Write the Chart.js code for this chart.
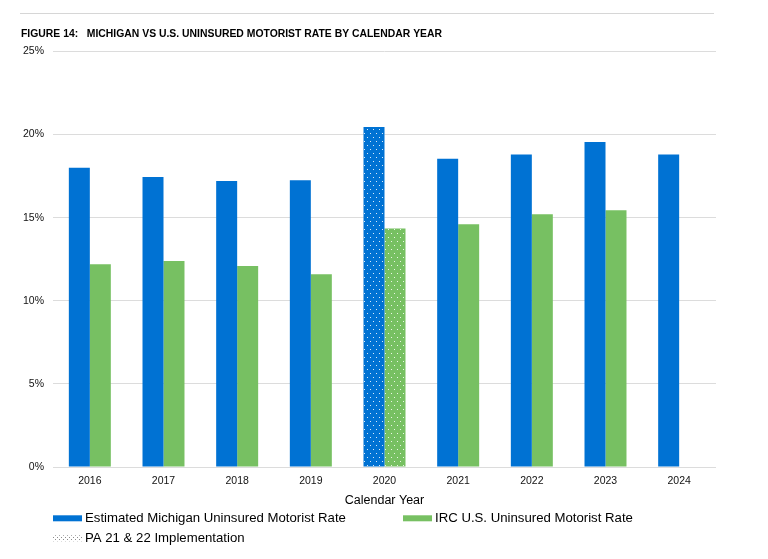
<!DOCTYPE html>
<html>
<head>
<meta charset="utf-8">
<script src="https://cdn.jsdelivr.net/npm/chart.js@4.4.1/dist/chart.umd.min.js"></script>
<style>
  html, body { margin: 0; padding: 0; background: #fff; }
</style>
</head>
<body>
<canvas id="uninsuredChart" width="768" height="559"></canvas>
<script>
// data
const years = ["2016", "2017", "2018", "2019", "2020", "2021", "2022", "2023", "2024"];
const michiganRate = [18.0, 17.45, 17.2, 17.25, 20.45, 18.55, 18.8, 19.55, 18.8];
const usRate = [12.2, 12.4, 12.1, 11.6, 14.35, 14.6, 15.2, 15.45, null];
const implementationYears = ["2020"];
const yTickValues = [0, 5, 10, 15, 20, 25];

const FONT = '"Liberation Sans", Arial, Helvetica, sans-serif';
const BLUE = "#0072d3";
const GREEN = "#77c062";
const implementationLabel = "PA 21 & 22 Implementation";

// dotted fill for the implementation year
function dotPattern(base, dot, w, h) {
    const c = document.createElement("canvas");
    c.width = w;
    c.height = h;
    const g = c.getContext("2d");
    g.fillStyle = base;
    g.fillRect(0, 0, w, h);
    g.fillStyle = dot;
    g.fillRect(1, 1, 1, 1);
    g.fillRect(1 + w / 2, 1 + h / 2, 1, 1);
    return g.createPattern(c, "repeat");
}

const blueDots = dotPattern(BLUE, "rgba(255,255,255,0.85)", 6, 8);
const greenDots = dotPattern(GREEN, "rgba(255,255,255,0.85)", 6, 8);
const greyDots = dotPattern("#ffffff", "#8c8c8c", 4, 4);

const blueFill = years.map(y => implementationYears.includes(y) ? blueDots : BLUE);
const greenFill = years.map(y => implementationYears.includes(y) ? greenDots : GREEN);

// top rule + legend laid out like the report
const pageDecor = {
    id: "pageDecor",
    afterDraw(chart) {
        const ctx = chart.ctx;
        const ds = chart.data.datasets;
        ctx.save();
        ctx.strokeStyle = "#d6d6d6";
        ctx.lineWidth = 1;
        ctx.beginPath();
        ctx.moveTo(20, 13.5);
        ctx.lineTo(chart.chartArea.right - 2, 13.5);
        ctx.stroke();

        const row1 = chart.height - 40.7;
        const row2 = row1 + 20;
        const items = [
            { text: ds[0].label, fill: BLUE, x: 53, y: row1 },
            { text: ds[1].label, fill: GREEN, x: 403, y: row1 },
            { text: implementationLabel, fill: greyDots, x: 53, y: row2 }
        ];
        ctx.font = "13.2px " + FONT;
        ctx.textBaseline = "middle";
        items.forEach(it => {
            ctx.fillStyle = it.fill;
            ctx.fillRect(it.x, it.y - 3, 29, 6);
            ctx.fillStyle = "#000";
            ctx.fillText(it.text, it.x + 32, it.y);
        });
        ctx.restore();
    }
};

const ctx = document.getElementById("uninsuredChart").getContext("2d");
new Chart(ctx, {
    type: "bar",
    data: {
        labels: years,
        datasets: [
            {
                label: "Estimated Michigan Uninsured Motorist Rate",
                data: michiganRate,
                backgroundColor: blueFill,
                barPercentage: 1,
                categoryPercentage: 0.57
            },
            {
                label: "IRC U.S. Uninsured Motorist Rate",
                data: usRate,
                backgroundColor: greenFill,
                barPercentage: 1,
                categoryPercentage: 0.57
            }
        ]
    },
    options: {
        responsive: false,
        animation: false,
        layout: { padding: { left: 21, right: 52, top: 0, bottom: 52 } },
        plugins: {
            legend: { display: false },
            tooltip: { enabled: false },
            title: {
                display: true,
                text: "FIGURE 14:   MICHIGAN VS U.S. UNINSURED MOTORIST RATE BY CALENDAR YEAR",
                align: "start",
                color: "#000",
                font: { family: FONT, size: 10.4, weight: "bold" },
                padding: { top: 28, bottom: 11 }
            }
        },
        scales: {
            x: {
                grid: { display: false, drawTicks: false },
                border: { display: false },
                ticks: { color: "#111", font: { family: FONT, size: 10.5, lineHeight: 1 }, padding: 8.5 },
                title: {
                    display: true,
                    text: "Calendar Year",
                    color: "#000",
                    font: { family: FONT, size: 12.5, lineHeight: 1 },
                    padding: { top: 0, bottom: 0 }
                }
            },
            y: {
                min: 0,
                max: 25,
                afterBuildTicks: scale => {
                    scale.ticks = yTickValues.map(v => ({ value: v }));
                },
                afterFit: scale => { scale.width = 32; },
                grid: { color: "#dcdcdc", drawTicks: false },
                border: { display: false },
                ticks: {
                    color: "#111",
                    font: { family: FONT, size: 10.5 },
                    padding: 9,
                    callback: v => v + "%"
                }
            }
        }
    },
    plugins: [pageDecor]
});
</script>
</body>
</html>
